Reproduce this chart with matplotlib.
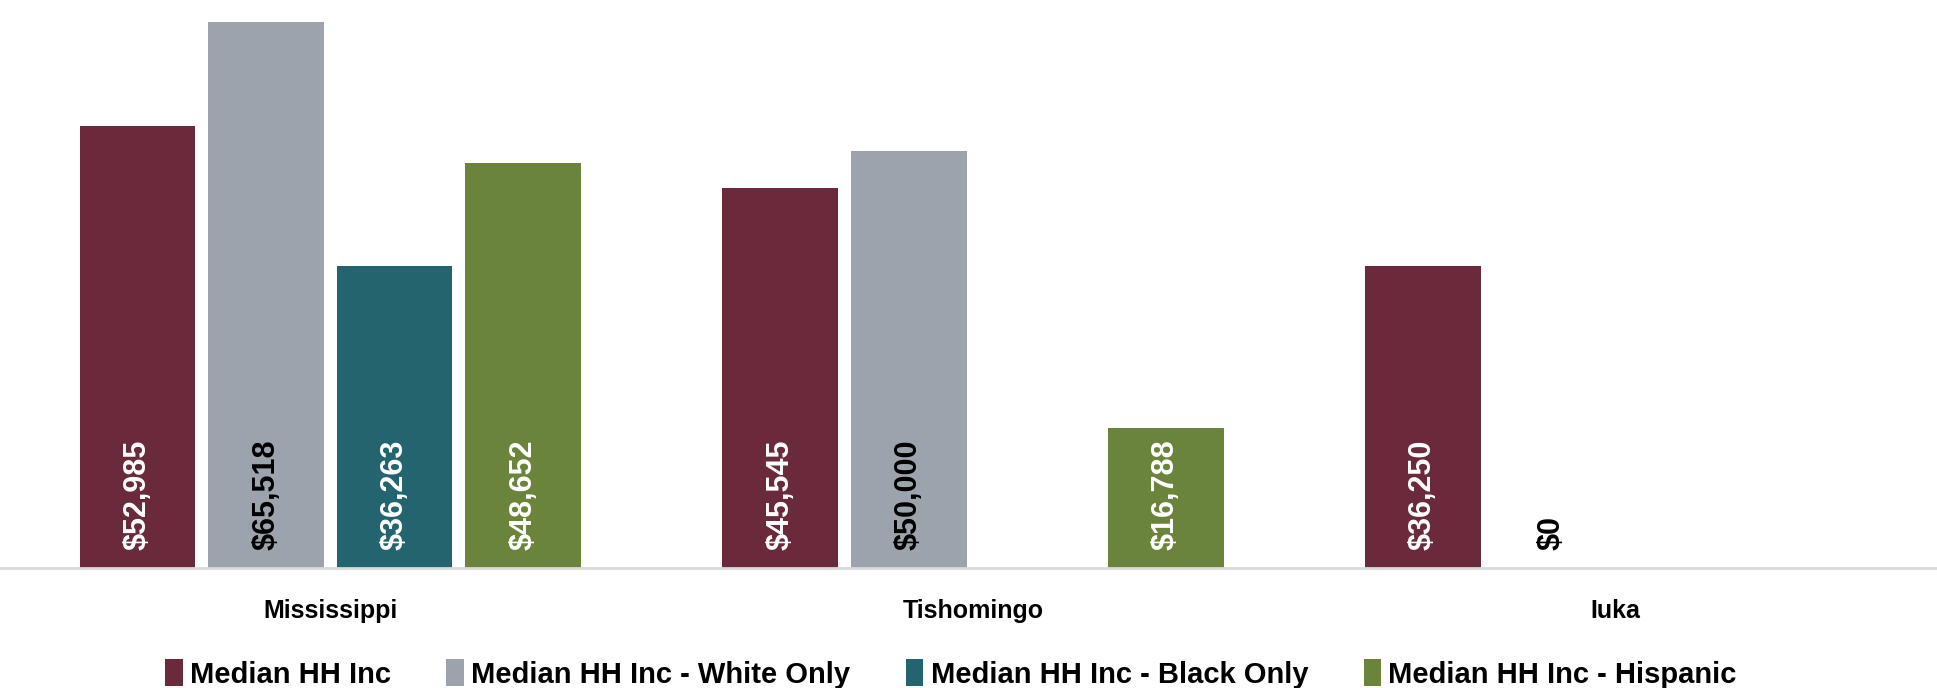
import numpy as np
import matplotlib
matplotlib.use("Agg")
import matplotlib.pyplot as plt

# -- data --
places = ["Mississippi", "Tishomingo", "Iuka"]
series = [
    "Median HH Inc",
    "Median HH Inc - White Only",
    "Median HH Inc - Black Only",
    "Median HH Inc - Hispanic",
]
inc_all = [52985, 45545, 36250]
inc_white = [65518, 50000, 0]
inc_black = [36263, None, None]
inc_hisp = [48652, 16788, None]

colors = ["#6b2a3c", "#9ba4ad", "#24646e", "#6a843b"]
label_colors = ["white", "black", "white", "white"]

plt.rcParams["font.family"] = ["Liberation Sans Narrow", "Liberation Sans", "DejaVu Sans"]

fig = plt.figure(figsize=(19.37, 6.88), dpi=100)
# plot area: full width, baseline at ~568 px from top
ax = fig.add_axes([0.0, 120 / 688, 1.0, 568 / 688])

x = np.arange(len(places))
width = 0.18
offsets = [-0.3, -0.1, 0.1, 0.3]

for vals, off, col, lc, name in zip(
        [inc_all, inc_white, inc_black, inc_hisp], offsets, colors, label_colors, series):
    xs = [xi + off for xi, v in zip(x, vals) if v is not None]
    vs = [v for v in vals if v is not None]
    ax.bar(xs, vs, width=width, color=col, label=name)
    for xi, v in zip(xs, vs):
        ax.text(xi, 2200, f"${v:,.0f}", rotation=90, ha="center", va="bottom",
                color=lc, fontsize=22, fontweight="bold")

ax.set_xlim(-0.514, 2.5)
ax.set_ylim(0, 68160)
ax.set_yticks([])
ax.set_xticks(x)
ax.set_xticklabels(places, fontsize=18, fontweight="bold")
ax.tick_params(axis="x", length=0, pad=22)
for s in ["top", "right", "left"]:
    ax.spines[s].set_visible(False)
ax.spines["bottom"].set_color("#d9d9d9")
ax.spines["bottom"].set_linewidth(2)

fig.legend(loc="center", bbox_to_anchor=(951 / 1937, 14 / 688), ncol=4,
           frameon=False, handlelength=0.6, handleheight=1.0,
           handletextpad=0.25, columnspacing=1.9,
           prop={"weight": "bold", "size": 21})

fig.savefig("out.png", dpi=100)
